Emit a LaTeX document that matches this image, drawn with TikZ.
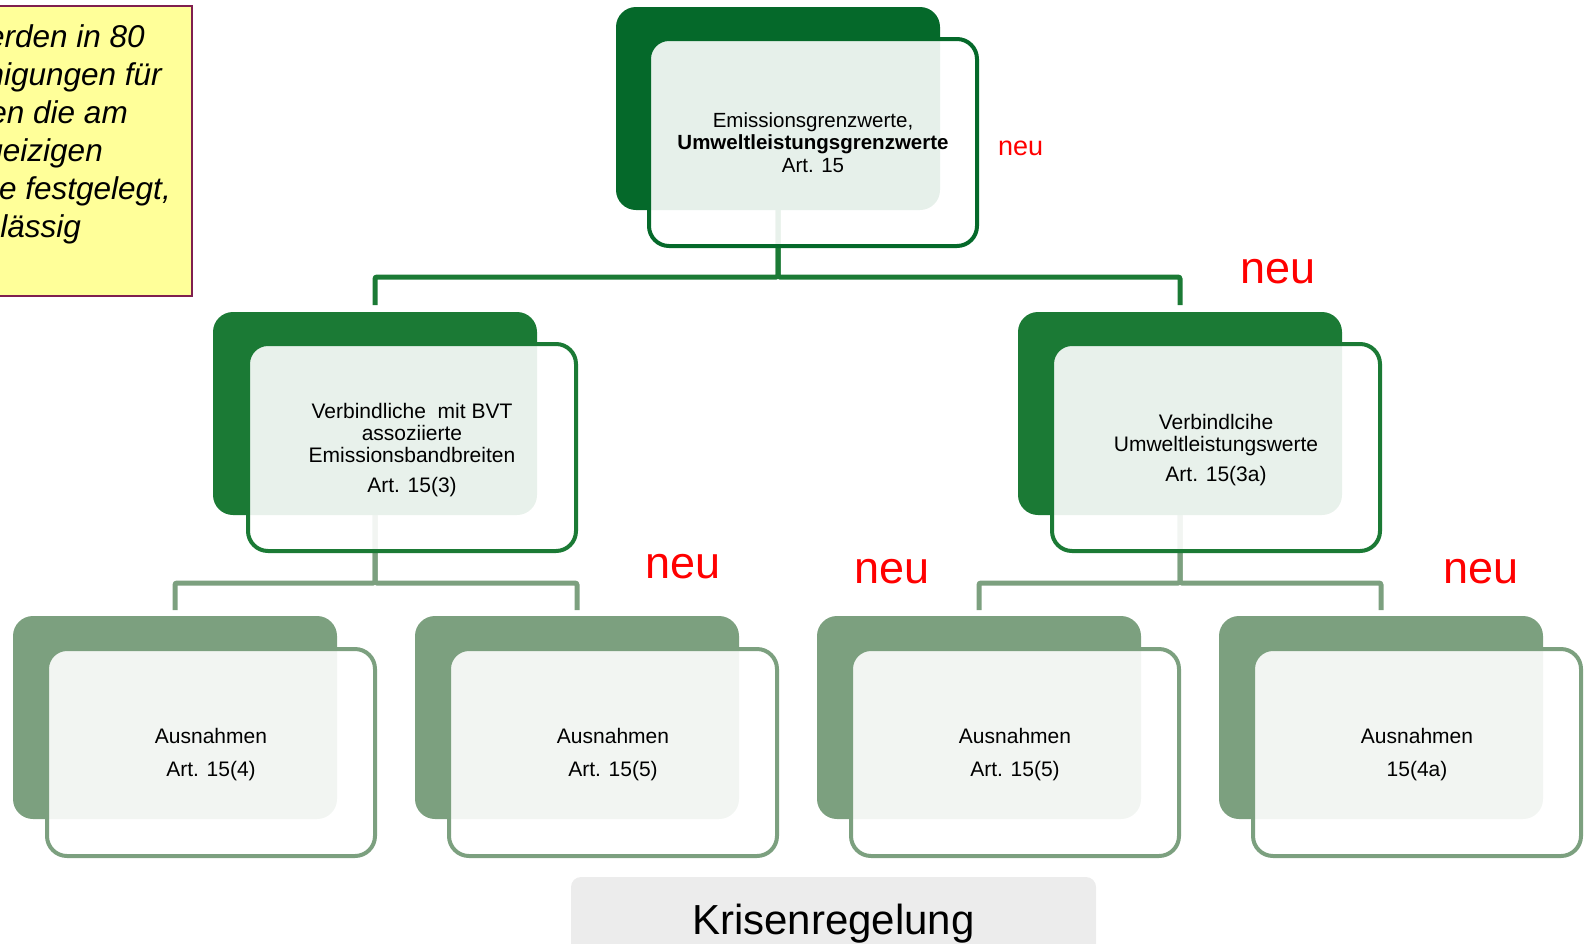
\documentclass[tikz,border=0pt]{standalone}
\usepackage{fontspec}
\setmainfont{Liberation Sans}
\pgfdeclarelayer{bg}
\pgfsetlayers{bg,main}
\definecolor{gtop}{HTML}{05692A}
\definecolor{gmid}{HTML}{1B7A35}
\definecolor{gbot}{HTML}{7CA07F}
\definecolor{notefill}{HTML}{FFFF99}
\definecolor{notedraw}{HTML}{7F1F4F}
\definecolor{krise}{HTML}{ECECEC}
\tikzset{
  back/.style={fill=#1, draw=none, rounded corners=20pt, minimum width=324pt, minimum height=203pt, inner sep=0pt, outer sep=0pt, anchor=north west},
  front/.style={draw=#1, line width=4pt, fill=white, fill opacity=0.9, text opacity=1, rounded corners=20pt, minimum width=328pt, minimum height=207pt, inner sep=0pt, outer sep=0pt, anchor=north west, align=center},
  conn/.style={draw=#1, line width=5pt, rounded corners=2pt},
  neu/.style={text=red, inner sep=0pt, anchor=base west, font=\fontsize{45}{50}\selectfont},
  noteline/.style={inner sep=0pt, anchor=base east, font=\fontsize{31.5}{38}\selectfont\itshape},
  boxtext/.style={font=\fontsize{21}{22}\selectfont},
}
\begin{document}
\begin{tikzpicture}[x=1pt,y=-1pt]
\useasboundingbox (0,0) rectangle (1585,943);

% note box (cut off at the left, as in the reference)
\node[draw=notedraw, line width=2pt, fill=notefill, minimum width=215pt, minimum height=290pt, inner sep=0pt, anchor=north east] (note) at (193,5) {};
\node[noteline] (n1) at (145,47) {erden in 80};
\node[noteline] (n2) at (162,85) {nigungen für};
\node[noteline] (n3) at (128,123) {en die am};
\node[noteline] (n4) at (103,161) {geizigen};
\node[noteline] (n5) at (171,199) {e festgelegt,};
\node[noteline] (n6) at (81,237) {lässig};

% top level
\node[back=gtop] (top) at (616,7) {};
\node[front=gtop, font=\fontsize{20.5}{22.5}\selectfont] (topf) at (649,39)
  {Emissionsgrenzwerte,\\ \textbf{Umweltleistungsgrenzwerte}\\ Art. 15};
\node[text=red, inner sep=0pt, anchor=base west, font=\fontsize{27}{30}\selectfont] (neu0) at (998,155) {neu};

% middle level
\node[back=gmid] (ml) at (213,312) {};
\node[front=gmid, boxtext] (mlf) at (248,344)
  {\rule{0pt}{21pt}Verbindliche \ mit BVT\\ assoziierte\\ Emissionsbandbreiten\\[8pt] Art. 15(3)};
\node[back=gmid] (mr) at (1018,312) {};
\node[front=gmid, boxtext] (mrf) at (1052,344)
  {\rule{0pt}{21pt}Verbindlcihe\\ Umweltleistungswerte\\[8pt] Art. 15(3a)};

% bottom level
\foreach \n/\x/\t in {b1/13/{Art. 15(4)}, b2/415/{Art. 15(5)}, b3/817/{Art. 15(5)}, b4/1219/{15(4a)}}{
  \node[back=gbot] (\n) at (\x,616) {};
  \node[front=gbot, font=\fontsize{21}{24}\selectfont] (\n f) at (\x+34,649) {\rule{0pt}{20pt}Ausnahmen\\[9pt] \t};
}

% red labels
\node[neu] (neu1) at (1240,283) {neu};
\node[neu] (neu2) at (645,578) {neu};
\node[neu] (neu3) at (854,583) {neu};
\node[neu] (neu4) at (1443,583) {neu};

% Krisenregelung
\node[fill=krise, rounded corners=10pt, inner sep=0pt, anchor=base, text height=57pt, text depth=30pt, text width=525pt, align=center, font=\fontsize{42}{46}\selectfont] (krise) at (833.5,934) {Krisenregelung};

% connectors
\begin{pgfonlayer}{bg}
\draw[conn=gmid, shorten >=7pt] (top.south) -- ++(0,67) -| (ml.north);
\draw[conn=gmid, shorten >=7pt] (top.south) -- ++(0,67) -| (mr.north);
\draw[conn=gbot, shorten >=6pt] (ml.south) -- ++(0,68) -| (b1.north);
\draw[conn=gbot, shorten >=6pt] (ml.south) -- ++(0,68) -| (b2.north);
\draw[conn=gbot, shorten >=6pt] (mr.south) -- ++(0,68) -| (b3.north);
\draw[conn=gbot, shorten >=6pt] (mr.south) -- ++(0,68) -| (b4.north);
\end{pgfonlayer}
\end{tikzpicture}
\end{document}
